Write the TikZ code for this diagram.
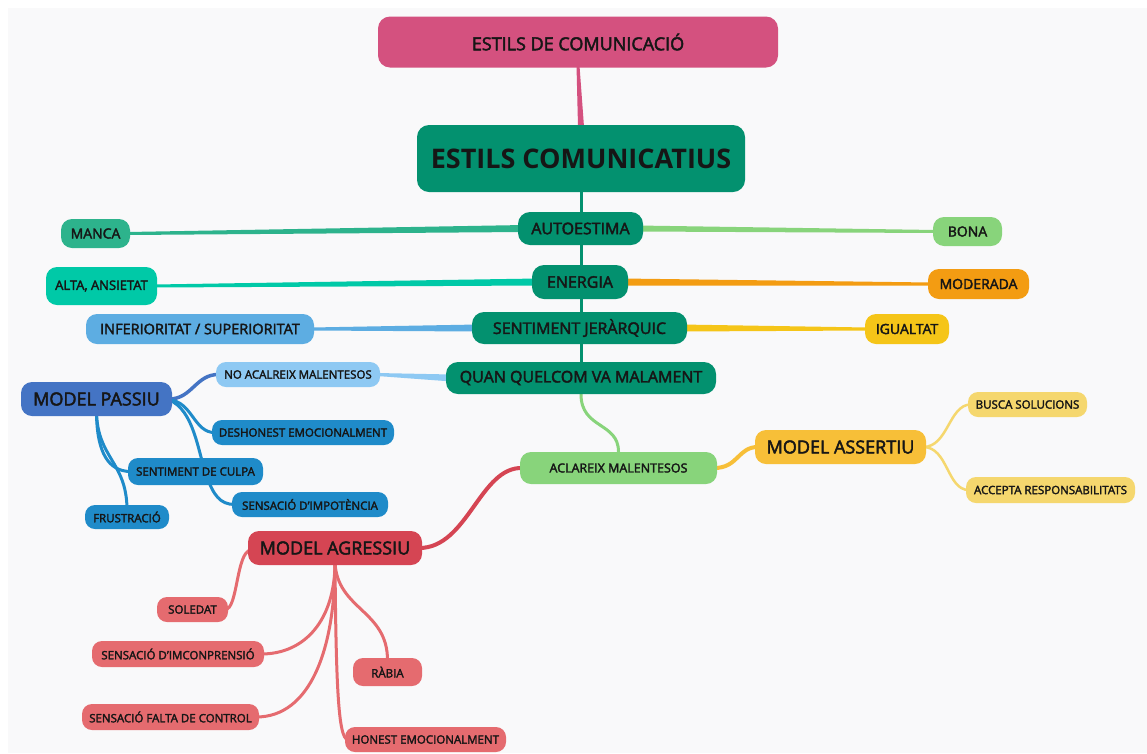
\documentclass[tikz,border=0pt]{standalone}
\usepackage{fontspec}
\setmainfont{Open Sans}[FakeBold=2.5]
\newfontfamily\titlefont{Open Sans Bold}
\usetikzlibrary{calc,backgrounds}
\newcommand{\fsz}[1]{\fontsize{#1}{#1}\selectfont}
\definecolor{cPink}{HTML}{D4517F}
\definecolor{cGreen}{HTML}{03916F}
\definecolor{cManca}{HTML}{2DB38C}
\definecolor{cAlta}{HTML}{00C9A7}
\definecolor{cInfer}{HTML}{5DADE2}
\definecolor{cBona}{HTML}{88D47B}
\definecolor{cModer}{HTML}{F39C12}
\definecolor{cIgual}{HTML}{F5C518}
\definecolor{cNoacal}{HTML}{8EC9F3}
\definecolor{cPassiu}{HTML}{4474C4}
\definecolor{cPchild}{HTML}{1F8BC9}
\definecolor{cAssert}{HTML}{F7BF38}
\definecolor{cYchild}{HTML}{F5D76E}
\definecolor{cAgress}{HTML}{D54553}
\definecolor{cRchild}{HTML}{E56B6F}
\definecolor{cText}{HTML}{161616}
\definecolor{cBg}{HTML}{F9F9FA}
\tikzset{
  box/.style={rectangle, rounded corners=10pt, inner sep=0pt, text=cText, align=center},
  lvl/.style={box, rounded corners=12pt, font=\fsz{16}},
  small/.style={box, font=\fsz{11.5}},
  mid/.style={box, rounded corners=11pt, font=\fsz{14}},
  model/.style={box, rounded corners=11pt, font=\fsz{18}},
  conn/.style={line width=3pt, line cap=round},
}
\pgfdeclarelayer{back}
\pgfdeclarelayer{bg}
\pgfsetlayers{back,bg,main}
\begin{document}
\begin{tikzpicture}[x=1pt,y=-1pt]
\useasboundingbox (0,0) rectangle (1147,753);
\begin{pgfonlayer}{back}
\fill[white] (0,0) rectangle (1147,753);
\fill[cBg] (8,8) rectangle (1147,753);
\end{pgfonlayer}

% main nodes
\node[box, rounded corners=12pt, fill=cPink, minimum width=400pt, minimum height=51pt, font=\fsz{18}] (top) at (578,42) {ESTILS DE COMUNICACIÓ};
\node[box, rounded corners=12pt, fill=cGreen, minimum width=328pt, minimum height=67pt, font=\fsz{27}\titlefont] (comun) at (581,158.5) {ESTILS COMUNICATIUS};
\node[lvl, fill=cGreen, minimum width=125pt, minimum height=33pt] (auto) at (580.5,228.5) {AUTOESTIMA};
\node[lvl, fill=cGreen, minimum width=96pt, minimum height=34pt] (energia) at (580,282) {ENERGIA};
\node[lvl, fill=cGreen, minimum width=215pt, minimum height=32pt] (sentj) at (579.5,328) {SENTIMENT JERÀRQUIC};
\node[lvl, fill=cGreen, minimum width=270pt, minimum height=32pt] (quan) at (581,378) {QUAN QUELCOM VA MALAMENT};

% side values
\node[mid, fill=cManca, minimum width=69pt, minimum height=29pt] (manca) at (95.5,233.5) {MANCA};
\node[mid, fill=cAlta, minimum width=111pt, minimum height=38pt, font=\fsz{13}] (alta) at (101.5,286) {ALTA, ANSIETAT};
\node[mid, fill=cInfer, minimum width=228pt, minimum height=30pt, font=\fsz{14.5}] (infer) at (200,329) {INFERIORITAT / SUPERIORITAT};
\node[mid, fill=cBona, minimum width=69pt, minimum height=29pt] (bona) at (967.5,231.5) {BONA};
\node[mid, fill=cModer, minimum width=101pt, minimum height=30pt] (moder) at (978.5,284) {MODERADA};
\node[mid, fill=cIgual, minimum width=84pt, minimum height=30pt] (igual) at (907,329) {IGUALTAT};

% passive model
\node[small, fill=cNoacal, minimum width=164pt, minimum height=25pt] (noacal) at (298,374.5) {NO ACALREIX MALENTESOS};
\node[model, fill=cPassiu, minimum width=151pt, minimum height=34pt] (passiu) at (96.5,399) {MODEL PASSIU};
\node[small, fill=cPchild, minimum width=182pt, minimum height=25pt] (desh) at (303,432.5) {DESHONEST EMOCIONALMENT};
\node[small, fill=cPchild, minimum width=135pt, minimum height=27pt] (culpa) at (195.5,471.5) {SENTIMENT DE CULPA};
\node[small, fill=cPchild, minimum width=156pt, minimum height=25pt] (impot) at (310,504.5) {SENSACIÓ D'IMPOTÈNCIA};
\node[small, fill=cPchild, minimum width=84pt, minimum height=24pt] (frust) at (127,517) {FRUSTRACIÓ};

% assertive model
\node[box, rounded corners=11pt, fill=cBona, minimum width=197pt, minimum height=32pt, font=\fsz{12.5}] (aclar) at (618.5,468) {ACLAREIX MALENTESOS};
\node[model, fill=cAssert, minimum width=171pt, minimum height=34pt] (assert) at (840.5,447) {MODEL ASSERTIU};
\node[small, fill=cYchild, minimum width=119pt, minimum height=25pt] (busca) at (1027.5,404.5) {BUSCA SOLUCIONS};
\node[small, fill=cYchild, minimum width=169pt, minimum height=26pt] (accept) at (1050.5,490) {ACCEPTA RESPONSABILITATS};

% aggressive model
\node[model, fill=cAgress, minimum width=174pt, minimum height=34pt] (agress) at (335,548) {MODEL AGRESSIU};
\node[small, fill=cRchild, minimum width=71pt, minimum height=25pt] (soled) at (192.5,609.5) {SOLEDAT};
\node[small, fill=cRchild, minimum width=172pt, minimum height=26pt] (imcon) at (178,654) {SENSACIÓ D'IMCONPRENSIÓ};
\node[small, fill=cRchild, minimum width=69pt, minimum height=28pt] (rabia) at (387.5,672) {RÀBIA};
\node[small, fill=cRchild, minimum width=177pt, minimum height=26pt] (falta) at (170.5,717) {SENSACIÓ FALTA DE CONTROL};
\node[small, fill=cRchild, minimum width=161pt, minimum height=25pt] (honest) at (425.5,739.5) {HONEST EMOCIONALMENT};

\begin{pgfonlayer}{bg}
% pink stem (tapered)
\fill[cPink] ($(top.south)+(-1.5,-2)$) -- ($(top.south)+(1.5,-2)$) -- ($(comun.north)+(3,2)$) -- ($(comun.north)+(-3,2)$) -- cycle;
% trunk
\draw[cGreen, line width=3pt] (comun.south) -- (quan.north);
% tapered straight branches
\fill[cManca] ($(auto.west)+(6,-3.5)$) -- ($(auto.west)+(6,3.5)$) -- ($(manca.east)+(-3,1.5)$) -- ($(manca.east)+(-3,-1.5)$) -- cycle;
\fill[cBona] ($(auto.east)+(-6,-3)$) -- ($(auto.east)+(-6,3)$) -- ($(bona.west)+(3,1.5)$) -- ($(bona.west)+(3,-1.5)$) -- cycle;
\fill[cAlta] ($(energia.west)+(6,-3.5)$) -- ($(energia.west)+(6,3.5)$) -- ($(alta.east)+(-3,1.5)$) -- ($(alta.east)+(-3,-1.5)$) -- cycle;
\fill[cModer] ($(energia.east)+(-6,-3.5)$) -- ($(energia.east)+(-6,3.5)$) -- ($(moder.west)+(3,1.5)$) -- ($(moder.west)+(3,-1.5)$) -- cycle;
\fill[cInfer] ($(sentj.west)+(6,-3.5)$) -- ($(sentj.west)+(6,3.5)$) -- ($(infer.east)+(-3,1.5)$) -- ($(infer.east)+(-3,-1.5)$) -- cycle;
\fill[cIgual] ($(sentj.east)+(-6,-3.5)$) -- ($(sentj.east)+(-6,3.5)$) -- ($(igual.west)+(3,1.5)$) -- ($(igual.west)+(3,-1.5)$) -- cycle;
\fill[cNoacal] ($(quan.west)+(6,-3.5)$) -- ($(quan.west)+(6,3.5)$) -- ($(noacal.east)+(-3,1.5)$) -- ($(noacal.east)+(-3,-1.5)$) -- cycle;
% curved branches
\draw[conn, cBona] (quan.south) .. controls +(0,35) and +(0,-30) .. (aclar.north);
\draw[conn, cAssert, line width=4pt] ($(aclar.east)+(-3,0)$) .. controls +(24,0) and +(-20,0) .. ($(assert.west)+(3,0)$);
\draw[conn, cYchild, line width=2.5pt] ($(assert.east)+(-3,0)$) .. controls +(25,0) and +(-22,0) .. ($(busca.west)+(3,0)$);
\draw[conn, cYchild, line width=2.5pt] ($(assert.east)+(-3,0)$) .. controls +(25,0) and +(-22,0) .. ($(accept.west)+(3,0)$);
\draw[conn, cAgress, line width=4pt] ($(aclar.west)+(3,0)$) .. controls (480,466) and (468,548) .. ($(agress.east)+(-3,0)$);
% passive branches
\draw[conn, cPassiu, line width=3.5pt] ($(passiu.east)+(-3,0)$) .. controls (192,399) and (196,374) .. ($(noacal.west)+(3,0)$);
\draw[conn, cPchild] ($(passiu.east)+(-3,1)$) .. controls (192,401) and (194,433) .. ($(desh.west)+(3,0)$);
\draw[conn, cPchild] ($(passiu.east)+(-3,1)$) .. controls (194,410) and (198,452) .. (206,474) .. controls (213,495) and (220,504.5) .. ($(impot.west)+(3,0)$);
\draw[conn, cPchild] ($(passiu.south)+(0,-3)$) .. controls (97,452) and (108,471.5) .. ($(culpa.west)+(3,0)$);
\draw[conn, cPchild] ($(passiu.south)+(0,-3)$) .. controls (98,458) and (126,462) .. ($(frust.north)+(0,3)$);
% aggressive branches
\draw[conn, cRchild] ($(agress.west)+(3,2)$) .. controls (236,552) and (238,609.5) .. ($(soled.east)+(-3,0)$);
\draw[conn, cRchild] ($(agress.south)+(0,-3)$) .. controls (335,620) and (305,654) .. ($(imcon.east)+(-3,0)$);
\draw[conn, cRchild] ($(agress.south)+(0,-3)$) .. controls (335,650) and (310,717) .. ($(falta.east)+(-3,0)$);
\draw[conn, cRchild] ($(agress.south)+(0,-3)$) .. controls (337,610) and (388,610) .. ($(rabia.north)+(0,3)$);
\draw[conn, cRchild] ($(agress.south)+(0,-3)$) .. controls (336,680) and (338,739.5) .. ($(honest.west)+(3,0)$);
\end{pgfonlayer}
\end{tikzpicture}
\end{document}
